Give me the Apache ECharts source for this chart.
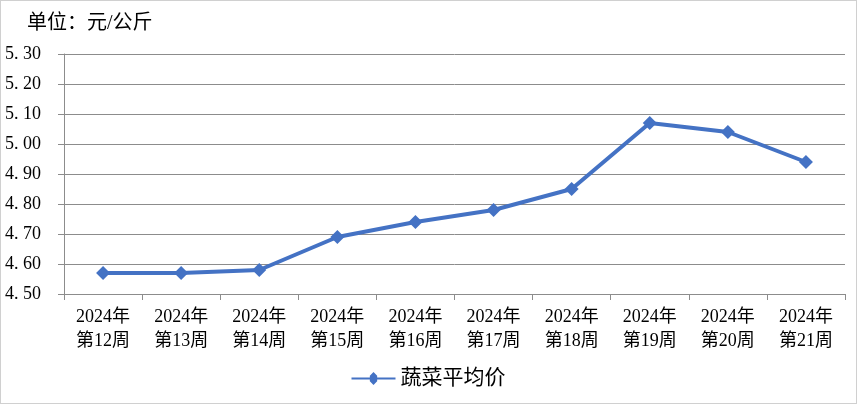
<!DOCTYPE html>
<html><head><meta charset="utf-8">
<script src="https://cdn.jsdelivr.net/npm/echarts@6/dist/echarts.min.js"></script>
<style>html,body{margin:0;padding:0;background:#fff}#c{width:857px;height:404px;box-sizing:border-box;border:1px solid #d0d0d0}</style>
</head><body><div id="c"></div>
<script>
const categories = ['2024年\n第12周','2024年\n第13周','2024年\n第14周','2024年\n第15周','2024年\n第16周','2024年\n第17周','2024年\n第18周','2024年\n第19周','2024年\n第20周','2024年\n第21周'];
const vegPrice = [4.57, 4.57, 4.58, 4.69, 4.74, 4.78, 4.85, 5.07, 5.04, 4.94];
const seriesName = '蔬菜平均价';
const unitLabel = '单位：元/公斤';
const yMin = 4.5, yMax = 5.3, yStep = 0.1;
const FONT = '"Liberation Serif", "Noto Sans CJK SC", serif';
const chart = echarts.init(document.getElementById('c'));
chart.setOption({
  animation: false,
  title: { text: unitLabel, left: 21, top: 8, textStyle: { fontFamily: FONT, fontSize: 20, fontWeight: 'normal', color: '#000' } },
  grid: { left: 63, right: 11, top: 53, bottom: 109 },
  legend: { bottom: 9, left: 'center', itemWidth: 44, itemHeight: 14, itemGap: 10, textStyle: { fontFamily: FONT, fontSize: 21, color: '#000' }, data: [{ name: seriesName, icon: 'path://M0,6 L20,6 L20,4 L24,0 L28,4 L28,6 L48,6 L48,8 L28,8 L28,10 L24,14 L20,10 L20,8 L0,8 Z' }] },
  xAxis: {
    type: 'category', data: categories, boundaryGap: true,
    axisLine: { lineStyle: { color: '#8c8c8c', width: 1 } },
    axisTick: { show: true, length: 6, lineStyle: { color: '#8c8c8c' } },
    axisLabel: { fontFamily: FONT, fontSize: 18, color: '#000', lineHeight: 24, margin: 11, interval: 0 }
  },
  yAxis: {
    type: 'value', min: yMin, max: yMax, interval: yStep,
    axisLine: { show: true, lineStyle: { color: '#8c8c8c' } },
    axisTick: { show: true, length: 6, lineStyle: { color: '#8c8c8c' } },
    splitLine: { lineStyle: { color: '#8c8c8c', width: 1 } },
    axisLabel: { fontFamily: FONT, fontSize: 18, color: '#000', margin: 23, formatter: v => v.toFixed(2).replace('.', '. ') }
  },
  series: [{
    name: seriesName, type: 'line', data: vegPrice,
    symbol: 'diamond', symbolSize: 14,
    lineStyle: { color: '#4472C4', width: 4 },
    itemStyle: { color: '#4472C4' }
  }]
});
</script></body></html>
